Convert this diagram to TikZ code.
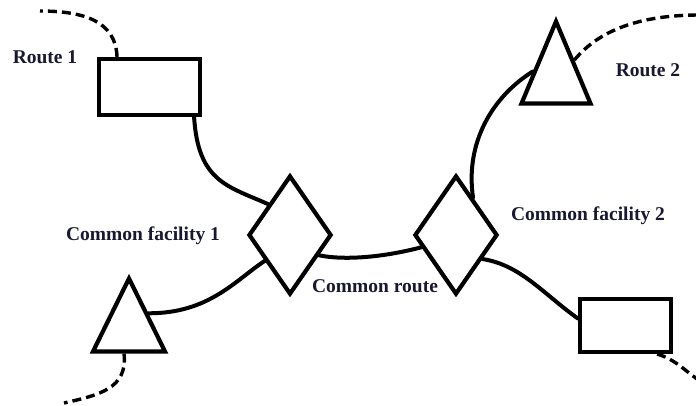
\documentclass[tikz,border=0pt]{standalone}
\usepackage{fontspec}
\setmainfont{Liberation Serif}
\usetikzlibrary{shapes.geometric,calc}
\definecolor{labelink}{RGB}{24,24,48}
\begin{document}
\begin{tikzpicture}[x=1pt,y=-1pt,
  shapeline/.style={draw=black,line width=4.2pt,fill=white,inner sep=0pt,line join=miter},
  boxnode/.style={shapeline,rectangle},
  facility/.style={shapeline,diamond,minimum width=83pt,minimum height=119pt},
  stopnode/.style={shapeline,isosceles triangle,isosceles triangle stretches,shape border rotate=90,anchor=apex},
  link/.style={draw=black,line width=4pt,line cap=round},
  feeder/.style={draw=black,line width=3.4pt,dash pattern=on 9pt off 5pt},
  lbl/.style={font=\bfseries\fontsize{19.5}{22}\selectfont,text=labelink,inner sep=0pt}]

\useasboundingbox (0,0) rectangle (696,405);

% route ends and common facilities
\node[boxnode,minimum width=101pt,minimum height=56pt] (r1) at (149.5,87) {};
\node[boxnode,minimum width=91pt,minimum height=53pt] (r2) at (625.5,325.5) {};
\node[facility] (d1) at (290,235) {};
\node[facility] (d2) at (456,235) {};
\node[stopnode,minimum width=72pt,minimum height=73pt] (t1) at (129,273) {};
\node[stopnode,minimum width=69pt,minimum height=82pt] (t2) at (556,16) {};

% free ends of the dashed feeders
\coordinate (e1) at (40,11);
\coordinate (e2) at (700,15);
\coordinate (e3) at (64,403);
\coordinate (e4) at (700,381);

% solid connections
\draw[link] ([xshift=-8pt]r1.south east) .. controls +(4,65) and +(-40,-18) .. ($(d1.west)!0.5!(d1.north)$);
\draw[link] ($(t1.apex)!0.5!(t1.right corner)$) .. controls +(60,0) and +(-30,20) .. ($(d1.west)!0.42!(d1.south)$);
\draw[link] ($(d1.east)!0.33!(d1.south)$) .. controls +(30,6) and +(-30,8) .. ($(d2.west)!0.2!(d2.south)$);
\draw[link] ($(d2.north)!0.39!(d2.east)$) .. controls +(-8,-55) and +(-40,25) .. ($(t2.apex)!0.62!(t2.left corner)$);
\draw[link] ($(d2.east)!0.39!(d2.south)$) .. controls +(38,6) and +(-35,-25) .. ([yshift=7pt]r2.west);

% dashed feeders
\draw[feeder] ([xshift=-32.5pt]r1.north) .. controls +(-1,-35) and +(45,0) .. (e1);
\draw[feeder] ($(t2.apex)!0.49!(t2.right corner)$) .. controls +(25,-30) and +(-60,0) .. (e2);
\draw[feeder] ([xshift=-5pt]t1.lower side) .. controls +(4,35) and +(35,-8) .. (e3);
\draw[feeder] ([xshift=-16pt]r2.south east) .. controls +(18,5) and +(-15,-10) .. (e4);

% labels
\node[lbl] (l1) at (45,57) {Route 1};
\node[lbl] (l2) at (648,70) {Route 2};
\node[lbl] (l3) at (143,236) {Common facility 1};
\node[lbl] (l4) at (588,216) {Common facility 2};
\node[lbl] (l5) at (375,286) {Common route};
\end{tikzpicture}
\end{document}
